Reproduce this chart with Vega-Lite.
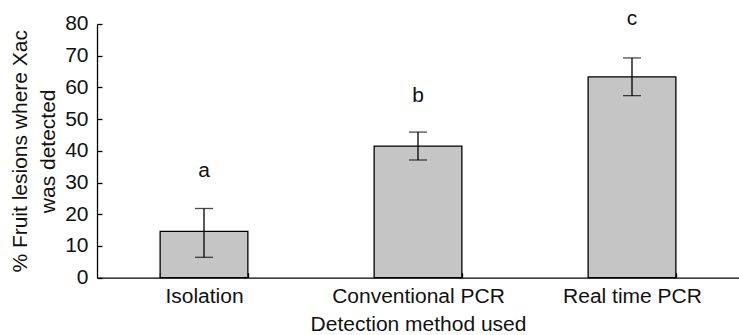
{
  "$schema": "https://vega.github.io/schema/vega-lite/v6.json",
  "width": 642,
  "height": 253.6,
  "autosize": "none",
  "padding": {"left": 97, "top": 24, "right": 0, "bottom": 57},
  "background": "white",
  "config": {
    "view": {"stroke": null},
    "font": "Liberation Sans",
    "axis": {
      "domainColor": "black",
      "domainWidth": 1.3,
      "tickColor": "black",
      "tickWidth": 1.3,
      "labelColor": "#111",
      "titleColor": "#111",
      "labelFont": "Liberation Sans",
      "titleFont": "Liberation Sans",
      "labelFontSize": 21,
      "titleFontSize": 21,
      "titleFontWeight": "normal",
      "labelOverlap": false,
      "grid": false
    }
  },
  "data": {
    "values": [
      {"method": "Isolation", "value": 14.6, "lower": 6.4, "upper": 21.8, "letter": "a", "letterPos": 31.7},
      {"method": "Conventional PCR", "value": 41.5, "lower": 37.1, "upper": 45.9, "letter": "b", "letterPos": 55.3},
      {"method": "Real time PCR", "value": 63.3, "lower": 57.4, "upper": 69.3, "letter": "c", "letterPos": 79.6}
    ]
  },
  "encoding": {
    "x": {
      "field": "method",
      "type": "nominal",
      "sort": null,
      "scale": {"paddingInner": 0.59, "paddingOuter": 0.295},
      "axis": {
        "title": "Detection method used",
        "labelAngle": 0,
        "tickBand": "extent",
        "tickSize": -5,
        "labelPadding": 13,
        "titlePadding": 7
      }
    }
  },
  "resolve": {"axis": {"y": "independent"}},
  "layer": [
    {
      "mark": {"type": "bar", "color": "#c4c5c4", "stroke": "black", "strokeWidth": 1.3},
      "encoding": {
        "y": {
          "field": "value",
          "type": "quantitative",
          "scale": {"domain": [0, 80], "nice": false},
          "axis": {
            "title": ["% Fruit lesions where Xac", "was detected"],
            "values": [0, 10, 20, 30, 40, 50, 60, 70, 80],
            "tickCount": 9,
            "labelOverlap": false,
            "tickSize": -5,
            "labelPadding": 14,
            "titlePadding": 6,
            "titleLineHeight": 28
          }
        }
      }
    },
    {
      "mark": {"type": "rule", "color": "black", "strokeWidth": 1.3},
      "encoding": {
        "y": {"field": "lower", "type": "quantitative", "axis": null},
        "y2": {"field": "upper"}
      }
    },
    {
      "mark": {"type": "tick", "color": "black", "thickness": 1.3, "size": 18, "orient": "horizontal"},
      "encoding": {"y": {"field": "lower", "type": "quantitative", "axis": null}}
    },
    {
      "mark": {"type": "tick", "color": "black", "thickness": 1.3, "size": 18, "orient": "horizontal"},
      "encoding": {"y": {"field": "upper", "type": "quantitative", "axis": null}}
    },
    {
      "mark": {"type": "text", "fontSize": 21, "color": "#111", "baseline": "alphabetic", "font": "Liberation Sans"},
      "encoding": {
        "y": {"field": "letterPos", "type": "quantitative", "axis": null},
        "text": {"field": "letter"}
      }
    }
  ]
}
